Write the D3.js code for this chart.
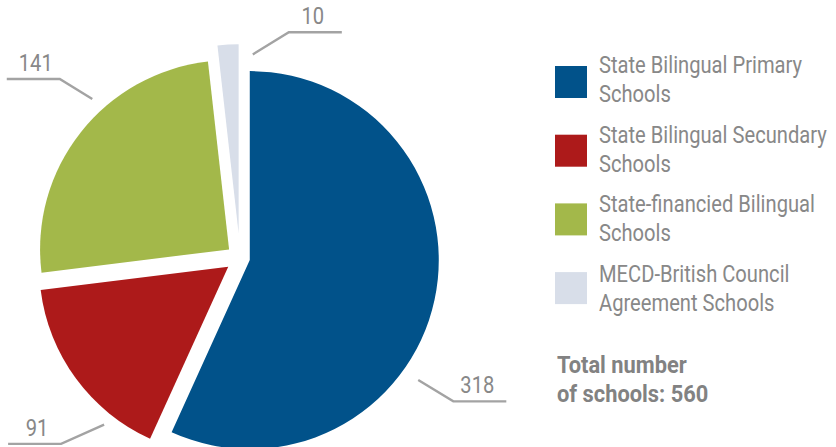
<!DOCTYPE html>
<html>
<head>
<meta charset="utf-8">
<script src="https://cdn.jsdelivr.net/npm/d3@7"></script>
<style>
  html, body { margin: 0; padding: 0; background: #ffffff; }
  svg { display: block; }
  text { font-family: Roboto, "Noto Sans", sans-serif; }
</style>
</head>
<body>
<svg id="chart" width="836" height="447"></svg>
<script>
// School categories and their counts
const categories = [
  ["State Bilingual Primary", "Schools"],
  ["State Bilingual Secundary", "Schools"],
  ["State-financied Bilingual", "Schools"],
  ["MECD-British Council", "Agreement Schools"]
];
const values = [318, 91, 141, 10];
const colors = ["#01528a", "#ad1a1a", "#a3b84a", "#d8dee9"];
const totalLines = ["Total number", "of schools: "];

// Layout
const W = 836, H = 447;
const center = { x: 240, y: 258 };
const radius = 189;
const explode = [10, 14.6, 13.9, 24.7];           // per-slice pull-out distance
const condense = 0.84;                              // horizontal squeeze for a condensed face
const textColor = "#888888";
const leaderColor = "#a3a3a3";

// Leader lines: polar start and elbow (degrees clockwise from 12 o'clock, from the pie centre)
const leaders = [
  { a0: 124.4, r0: 216, a1: 123.9, r1: 257, side: 1 },
  { a0: 219.2, r0: 215, a1: 223.9, r1: 258, side: -1 },
  { a0: 317.1, r0: 217, a1: 314.8, r1: 254, side: -1 },
  { a0: 3.6,   r0: 204, a1: 12.2,  r1: 231, side: 1 }
];

const svg = d3.select("#chart");

const pie = d3.pie().sort(null).value(d => d).startAngle(0).endAngle(2 * Math.PI);
const arcs = pie(values);
const arc = d3.arc().innerRadius(0).outerRadius(radius);

const gPie = svg.append("g").attr("transform", `translate(${center.x},${center.y})`);

gPie.selectAll("path.slice")
  .data(arcs)
  .join("path")
  .attr("class", "slice")
  .attr("fill", (d, i) => colors[i])
  .attr("transform", (d, i) => {
    const mid = (d.startAngle + d.endAngle) / 2;
    const [dx, dy] = d3.pointRadial(mid, explode[i]);
    return `translate(${dx},${dy})`;
  })
  .attr("d", arc);

// Value labels with leader lines
const rad = deg => deg * Math.PI / 180;
const gLab = gPie.append("g");
arcs.forEach((d, i) => {
  const L = leaders[i];
  const p0 = d3.pointRadial(rad(L.a0), L.r0);
  const p1 = d3.pointRadial(rad(L.a1), L.r1);
  const p2 = [p1[0] + L.side * 53, p1[1]];
  gLab.append("polyline")
    .attr("points", [p0, p1, p2].map(p => p.join(",")).join(" "))
    .attr("fill", "none")
    .attr("stroke", leaderColor)
    .attr("stroke-width", 2.4);
  gLab.append("text")
    .attr("transform", `translate(${p1[0] + L.side * 24},${p1[1] - 8}) scale(${condense},1)`)
    .attr("text-anchor", "middle")
    .attr("font-size", 24)
    .attr("fill", textColor)
    .text(d.data);
});

// Legend
const gLeg = svg.append("g");
categories.forEach((lines, i) => {
  gLeg.append("rect")
    .attr("x", 555)
    .attr("y", 66 + 68.7 * i)
    .attr("width", 32)
    .attr("height", 32)
    .attr("fill", colors[i]);
  lines.forEach((t, j) => {
    gLeg.append("text")
      .attr("transform", `translate(599,${73 + 69.6 * i + 29 * j}) scale(${condense},1)`)
      .attr("font-size", 24)
      .attr("fill", textColor)
      .text(t);
  });
});

// Total
const total = d3.sum(values);
[totalLines[0], totalLines[1] + total].forEach((t, j) => {
  svg.append("text")
    .attr("transform", `translate(557,${373 + 29 * j}) scale(0.95,1)`)
    .attr("font-size", 23)
    .attr("font-weight", 700)
    .attr("fill", "#828282")
    .text(t);
});
</script>
</body>
</html>
